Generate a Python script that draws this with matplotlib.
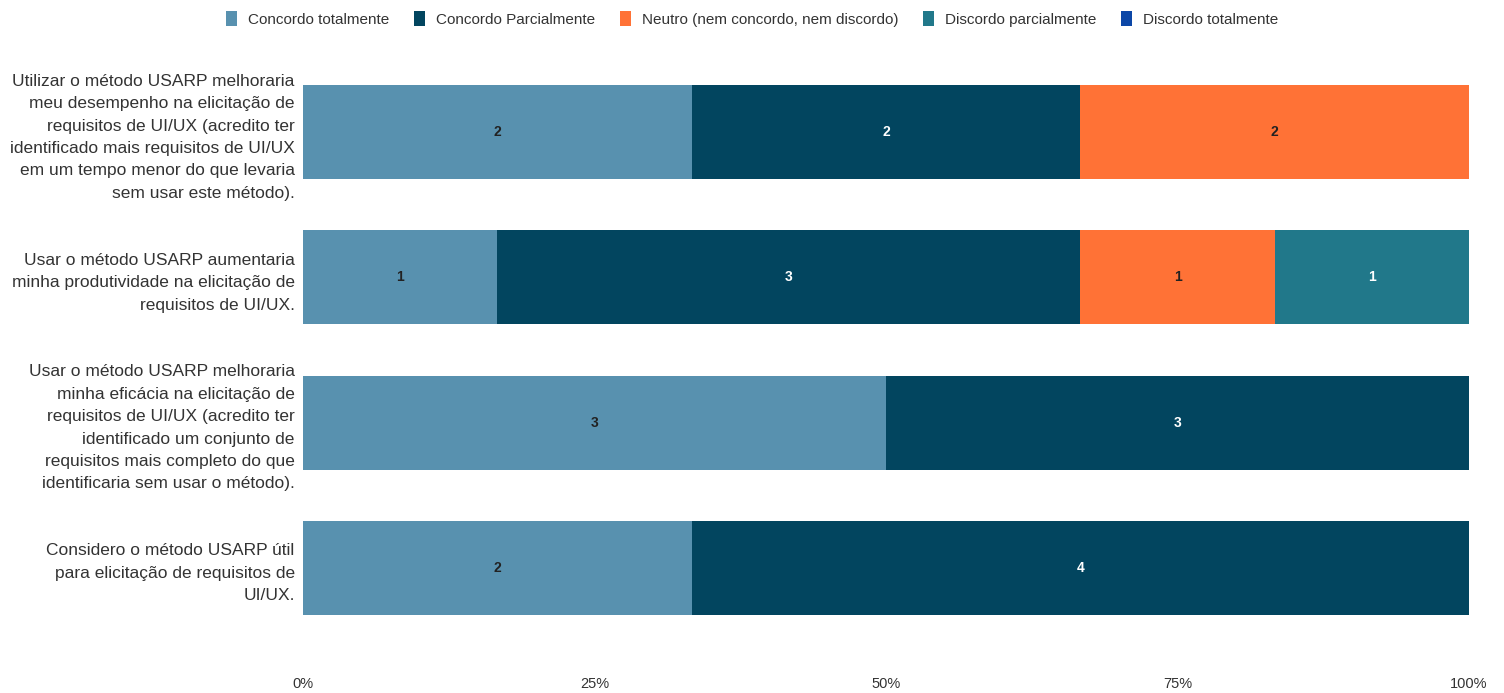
import numpy as np
import matplotlib.pyplot as plt

# dados
perguntas = [
    "Utilizar o método USARP melhoraria\nmeu desempenho na elicitação de\nrequisitos de UI/UX (acredito ter\nidentificado mais requisitos de UI/UX\nem um tempo menor do que levaria\nsem usar este método).",
    "Usar o método USARP aumentaria\nminha produtividade na elicitação de\nrequisitos de UI/UX.",
    "Usar o método USARP melhoraria\nminha eficácia na elicitação de\nrequisitos de UI/UX (acredito ter\nidentificado um conjunto de\nrequisitos mais completo do que\nidentificaria sem usar o método).",
    "Considero o método USARP útil\npara elicitação de requisitos de\nUI/UX.",
]
respostas = ["Concordo totalmente", "Concordo Parcialmente", "Neutro (nem concordo, nem discordo)",
             "Discordo parcialmente", "Discordo totalmente"]
concordo_tot = [2, 1, 3, 2]
concordo_parc = [2, 3, 3, 4]
neutro = [2, 1, 0, 0]
discordo_parc = [0, 1, 0, 0]
discordo_tot = [0, 0, 0, 0]

cores = ["#5891AF", "#02455F", "#FF7236", "#21788A", "#0C47A7"]
cor_texto = ["#222222", "white", "#222222", "white", "white"]

plt.rcParams["font.family"] = ["Liberation Sans", "DejaVu Sans"]

contagens = np.array([concordo_tot, concordo_parc, neutro, discordo_parc, discordo_tot], dtype=float)
total = contagens.sum(axis=0)
pct = contagens / total * 100

fig = plt.figure(figsize=(15.04, 6.93), dpi=100)
ax = fig.add_axes([0.2015, 0.0756, 0.7753, 0.8387])

y = np.arange(len(perguntas))
esq = np.zeros(len(perguntas))
for i, nome in enumerate(respostas):
    ax.barh(y, pct[i], left=esq, height=0.647, color=cores[i], label=nome)
    for j in range(len(perguntas)):
        if contagens[i, j] > 0:
            ax.text(esq[j] + pct[i, j] / 2, y[j], f"{int(contagens[i, j])}", ha="center", va="center",
                    color=cor_texto[i], fontsize=10, fontweight="bold")
    esq += pct[i]

ax.set_xlim(0, 100)
ax.set_ylim(3.5, -0.5)
ax.set_yticks(y)
ax.set_yticklabels(perguntas, fontsize=12.5, linespacing=1.62)
ax.set_xticks([0, 25, 50, 75, 100])
ax.set_xticklabels(["0%", "25%", "50%", "75%", "100%"], fontsize=10.5)
ax.tick_params(axis="both", length=0, colors="#333333")
ax.tick_params(axis="y", pad=6)
ax.tick_params(axis="x", pad=26)
for s in ax.spines.values():
    s.set_visible(False)

fig.legend(loc="upper center", bbox_to_anchor=(0.5, 1.004), ncol=5, frameon=False,
           prop={"size": 11}, handlelength=0.75, handleheight=1.15,
           columnspacing=1.6, handletextpad=0.7, labelcolor="#333333")

fig.savefig("out.png", dpi=100)
